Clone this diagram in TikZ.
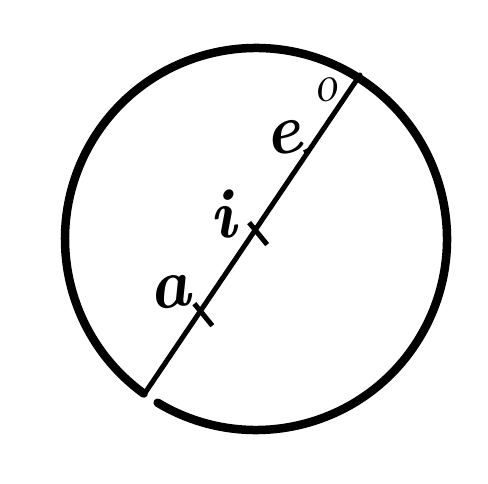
\documentclass[tikz,border=0pt]{standalone}
\usetikzlibrary{calc}
\begin{document}
\begin{tikzpicture}[x=1pt,y=1pt,
  rim/.style={line width=8.5pt, line cap=round},
  chordline/.style={line width=5pt, line cap=round},
  tickmark/.style={line width=5pt},
  lbl/.style={inner sep=0pt, font=\fontsize{70}{70}\selectfont\bfseries\itshape},
  smalllbl/.style={inner sep=0pt, font=\fontsize{52}{52}\selectfont\itshape}]
\useasboundingbox (0,0) rectangle (488,483);
\coordinate (C) at (256,244);
\draw[rim] ($(C)+(239:191)$) arc[start angle=239, end angle=594, radius=191];
\coordinate (A) at (145,90);
\coordinate (B) at (360,408);
\draw[chordline] (A) -- (B);
\coordinate (t1) at ($(A)!0.517!(B)$);
\coordinate (t2) at ($(A)!0.262!(B)$);
\coordinate (t3) at ($(A)!0.767!(B)$);
\draw[tickmark] ($(t1)+(-7,6)$) -- ($(t1)+(11,-16)$);
\draw[tickmark] ($(t2)+(-7,6)$) -- ($(t2)+(11,-16)$);
\draw[tickmark, line width=3.5pt] (t3) -- ($(t3)+(-6,-3)$);
\node[smalllbl, rotate=10] (o) at (325,393) {o};
\node[lbl, rotate=12] (e) at (283,345) {e};
\node[lbl, rotate=10] (i) at (222,268) {i};
\node[lbl, rotate=8] (a) at (170,191) {a};
\end{tikzpicture}
\end{document}
